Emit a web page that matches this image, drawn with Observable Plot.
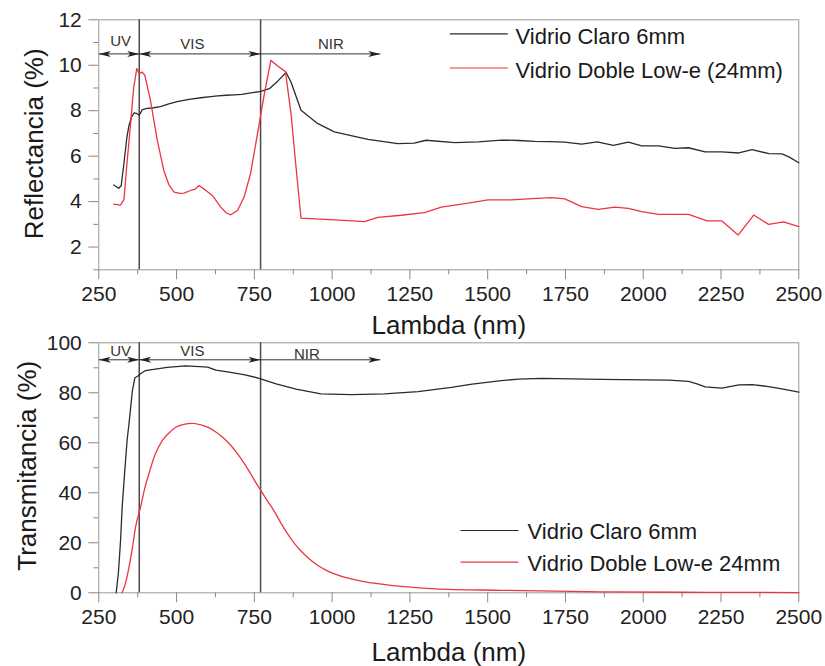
<!DOCTYPE html>
<html><head><meta charset="utf-8">
<script src="https://cdn.jsdelivr.net/npm/d3@7"></script>
<script src="https://cdn.jsdelivr.net/npm/@observablehq/plot@0.6"></script>
<style>
body{margin:0;background:#fff;}
#chart{width:825px;height:666px;position:relative;overflow:hidden;background:#fff;}
#chart svg{display:block;overflow:visible;}
</style></head><body><div id="chart"></div>
<script>
// ---------- data ----------
const xTicks = [250, 500, 750, 1000, 1250, 1500, 1750, 2000, 2250, 2500];
const xMinor = [375, 625, 875, 1125, 1375, 1625, 1875, 2125, 2375];
const reflTicks = [2, 4, 6, 8, 10, 12];
const reflMinor = [1, 3, 5, 7, 9, 11];
const transTicks = [0, 20, 40, 60, 80, 100];
const transMinor = [10, 30, 50, 70, 90];

const seriesNames = ["Vidrio Claro 6mm", "Vidrio Doble Low-e (24mm)"];
const seriesNamesT = ["Vidrio Claro 6mm", "Vidrio Doble Low-e 24mm"];
const seriesColors = ["#2b2b2b", "#ec3540"];

const xTitle = "Lambda (nm)";
const reflTitle = "Reflectancia (%)";
const transTitle = "Transmitancia (%)";

// spectral bands
const bandBoundaries = [380, 770];
const bandNames = ["UV", "VIS", "NIR"];
const bandStart = [250, 380, 770];
const bandEnd = [380, 770, 1155];
const headAt = [250, 380, 380, 770, 1155];
const headRotate = [180, 0, 180, 0, 0];
const reflArrowLevel = 10.5;
const transArrowLevel = 93.2;
const reflBandLabelX = [320, 551, 996];
const reflBandLabelY = [11.06, 10.92, 10.92];
const transBandLabelX = [320, 551, 919];
const transBandLabelY = [96.6, 96.6, 95.6];

// Reflectance - Vidrio Claro 6mm
const reflClaroX = [298,314,322,330,340,347,355,363,372,380,390,405,427,448,475,502,540,578,610,632,660,685,710,739,771,798,825,852,868,900,953,1007,1061,1115,1211,1264,1302,1394,1470,1544,1600,1651,1700,1747,1802,1852,1904,1952,1995,2049,2102,2145,2199,2253,2307,2350,2404,2446,2468,2500];
const reflClaroY = [4.73,4.59,4.7,5.6,6.8,7.35,7.7,7.9,7.88,7.8,8.05,8.1,8.13,8.18,8.3,8.4,8.5,8.57,8.62,8.65,8.68,8.7,8.72,8.78,8.85,8.97,9.3,9.68,9.25,8.02,7.44,7.07,6.9,6.74,6.55,6.57,6.7,6.6,6.63,6.71,6.69,6.65,6.64,6.62,6.53,6.63,6.47,6.62,6.45,6.45,6.34,6.37,6.19,6.19,6.14,6.29,6.11,6.1,5.97,5.71];

// Reflectance - Vidrio Doble Low-e (24mm)
const reflLoweX = [298,320,331,340,352,362,372,380,390,398,416,438,459,475,492,510,524,545,560,572,588,615,642,660,674,696,717,738,760,782,803,825,850,868,884,900,1008,1104,1147,1222,1297,1351,1437,1501,1576,1629,1705,1748,1802,1855,1909,1952,1995,2049,2146,2205,2253,2305,2355,2403,2451,2500];
const reflLoweY = [3.89,3.85,4.1,5.6,7.4,9.0,9.85,9.63,9.7,9.55,8.45,6.69,5.37,4.75,4.42,4.36,4.37,4.49,4.55,4.71,4.56,4.27,3.76,3.5,3.42,3.61,4.2,5.25,6.98,8.73,10.22,9.97,9.72,7.85,5.51,3.27,3.2,3.12,3.31,3.4,3.52,3.76,3.93,4.08,4.08,4.12,4.18,4.12,3.78,3.66,3.76,3.7,3.56,3.44,3.44,3.15,3.15,2.53,3.41,3.0,3.11,2.9];

// Transmittance - Vidrio Claro 6mm
const transClaroX = [306,313,320,325,333,341,347,358,366,375,384,400,432,470,529,560,600,626,669,720,765,820,884,964,1061,1168,1276,1383,1450,1544,1600,1673,1866,2081,2146,2175,2199,2253,2307,2350,2403,2450,2500];
const transClaroY = [0,8,21,34,48,61,67.6,80.9,86,86.6,87.6,88.9,89.5,90.2,90.8,90.6,90.3,89.1,88.3,87.2,85.8,83.6,81.5,79.6,79.3,79.6,80.5,82.2,83.5,84.9,85.5,85.8,85.4,85.1,84.6,83.5,82.4,81.9,83.2,83.3,82.5,81.5,80.3];

// Transmittance - Vidrio Doble Low-e 24mm
const transLoweX = [325,336,347,358,368,384,398,411,430,454,475,497,520,551,578,605,625,647,668,690,710,730,750,771,792,814,835,857,878,900,927,954,980,1007,1061,1115,1170,1222,1329,1544,1866,2200,2500];
const transLoweY = [0,4,10.2,18,26.2,34.2,42,47.6,55,60.9,63.8,66.2,67.3,67.8,67.2,66.0,64.4,62.3,59.8,56.6,53.2,49.3,45.1,40.9,36.8,32.6,28.0,23.6,19.9,16.7,13.5,10.9,9.1,7.6,5.6,4.2,3.3,2.6,1.6,1.0,0.4,0.2,0.1];

// ---------- helpers ----------
const FONT = "'Liberation Sans', Arial, Helvetica, sans-serif";
const toRows = (xs, ys) => xs.map((x, i) => ({x, y: ys[i]}));
const arrowHead = {draw(ctx) { ctx.moveTo(0, 0); ctx.lineTo(-12, -3); ctx.lineTo(-9, 0); ctx.lineTo(-12, 3); ctx.closePath(); }};
const swatch = {draw(ctx) { ctx.moveTo(0, 0); ctx.lineTo(58, 0); }};

function panel({height, marginTop, marginBottom, yDomain, yTicks, yMinor, yTitle, yTitleDx, yTitleDy, xTitleDy,
                series, curves, arrowLevel, labelX, labelY, legendNames, legend}) {
  const bands = bandNames.map((n, i) => ({n, x1: bandStart[i], x2: bandEnd[i], lx: labelX[i], ly: labelY[i]}));
  const heads = headAt.map((x, i) => ({x, r: headRotate[i]}));
  const marks = [
    Plot.frame({stroke: "#9a9a9a"}),
    Plot.axisX({ticks: xMinor, tickSize: 5, tickFormat: () => "", label: null, stroke: "#888"}),
    Plot.axisX({ticks: xTicks, tickSize: 10, tickPadding: 6, tickFormat: d => String(d), label: null,
      stroke: "#888", color: "#222", fontSize: 21}),
    Plot.axisY({ticks: yMinor, tickSize: 5, tickFormat: () => "", label: null, stroke: "#888"}),
    Plot.axisY({ticks: yTicks, tickSize: 10, tickPadding: 7, label: null, stroke: "#888", color: "#222", fontSize: 21}),
    Plot.ruleX(bandBoundaries, {stroke: "#4a4a4a", strokeWidth: 1.5}),
    Plot.link(bands, {x1: "x1", x2: "x2", y1: () => arrowLevel, y2: () => arrowLevel, stroke: "#333", strokeWidth: 1}),
    Plot.dot(heads, {x: "x", y: () => arrowLevel, symbol: arrowHead, rotate: "r", fill: "#222", stroke: "none"}),
    Plot.text(bands, {x: "lx", y: "ly", text: "n", fontSize: 15, fill: "#333"}),
  ];
  series.forEach((rows, i) => {
    marks.push(Plot.line(rows, {x: "x", y: "y", stroke: seriesColors[i], strokeWidth: 1.3, curve: curves[i]}));
  });
  legendNames.forEach((name, i) => {
    marks.push(Plot.dot([name], {frameAnchor: "top-left", dx: legend.lineDx, dy: legend.lineDy[i], symbol: swatch,
      stroke: seriesColors[i], fill: "none", strokeWidth: 1.2}));
    marks.push(Plot.text([name], {frameAnchor: "top-left", dx: legend.textDx, dy: legend.textDy[i], text: d => d,
      textAnchor: "start", lineAnchor: "bottom", fontSize: 22, fill: "#1a1a1a"}));
  });
  marks.push(Plot.text([xTitle], {frameAnchor: "bottom", dy: xTitleDy, text: d => d, lineAnchor: "bottom",
    textAnchor: "middle", fontSize: 26, fill: "#1a1a1a"}));
  marks.push(Plot.text([yTitle], {frameAnchor: "left", dx: yTitleDx, dy: yTitleDy, rotate: -90, text: d => d,
    lineAnchor: "bottom", textAnchor: "middle", fontSize: 26, fill: "#1a1a1a"}));

  return Plot.plot({
    width: 825, height,
    marginLeft: 98.3, marginRight: 26.7, marginTop, marginBottom,
    x: {domain: [250, 2500]},
    y: {domain: yDomain},
    style: {fontFamily: FONT, overflow: "visible", background: "transparent"},
    marks
  });
}

const topChart = panel({
  height: 340, marginTop: 19.3, marginBottom: 70.7,
  yDomain: [1, 12], yTicks: reflTicks, yMinor: reflMinor,
  yTitle: reflTitle, yTitleDx: -55.6, yTitleDy: -1, xTitleDy: 64,
  series: [toRows(reflClaroX, reflClaroY), toRows(reflLoweX, reflLoweY)],
  curves: ["linear", "linear"],
  arrowLevel: reflArrowLevel, labelX: reflBandLabelX, labelY: reflBandLabelY,
  legendNames: seriesNames,
  legend: {lineDx: 351, lineDy: [14, 48.2], textDx: 416.7, textDy: [24, 58]}
});

const bottomChart = panel({
  height: 326, marginTop: 2.3, marginBottom: 73.7,
  yDomain: [0, 100], yTicks: transTicks, yMinor: transMinor,
  yTitle: transTitle, yTitleDx: -63.3, yTitleDy: -2, xTitleDy: 68,
  series: [toRows(transClaroX, transClaroY), toRows(transLoweX, transLoweY)],
  curves: ["linear", "monotone-x"],
  arrowLevel: transArrowLevel, labelX: transBandLabelX, labelY: transBandLabelY,
  legendNames: seriesNamesT,
  legend: {lineDx: 361.7, lineDy: [187.7, 219.4], textDx: 428.7, textDy: [196, 228.4]}
});

const root = document.getElementById("chart");
root.appendChild(topChart);
root.appendChild(bottomChart);
</script>
</body></html>
